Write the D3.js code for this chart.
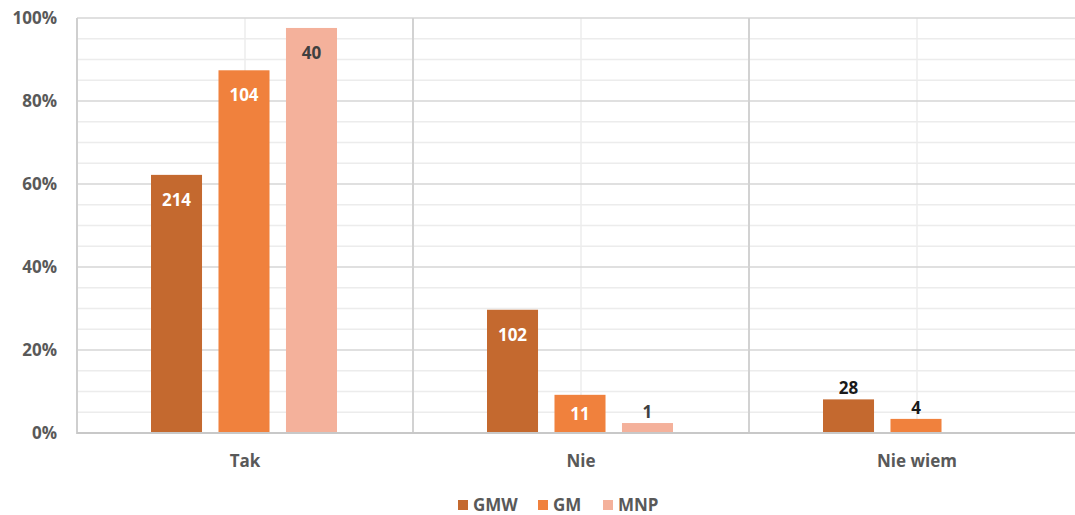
<!DOCTYPE html>
<html><head><meta charset="utf-8">
<script src="https://cdn.jsdelivr.net/npm/d3@7"></script>
<style>body{margin:0;background:#fff}svg{display:block}text{font-family:"Open Sans",sans-serif;font-weight:700}</style>
</head><body><svg id="c" width="1075" height="515"></svg>
<script>
const categories = ["Tak", "Nie", "Nie wiem"];
const seriesNames = ["GMW", "GM", "MNP"];
const seriesColors = ["#C4692F", "#F0813D", "#F4B19B"];
// percentage of respondents (bar height)
const gmwPct = [62.2, 29.7, 8.1];
const gmPct = [87.4, 9.2, 3.4];
const mnpPct = [97.6, 2.4, 0];
// counts shown as data labels
const gmwCount = [214, 102, 28];
const gmCount = [104, 11, 4];
const mnpCount = [40, 1, null];
const yTicks = [0, 20, 40, 60, 80, 100];

const pcts = [gmwPct, gmPct, mnpPct];
const counts = [gmwCount, gmCount, mnpCount];
const svg = d3.select("#c");
const L = 77, R = 1085, T = 18, B = 433;
const x = d3.scaleBand().domain(categories).range([L, R]);
const xs = d3.scaleBand().domain(seriesNames).range([74, 260]).paddingInner(0.244);
const y = d3.scaleLinear().domain([0, 100]).range([B, T]);

// minor gridlines
svg.append("g").selectAll("line").data(d3.range(0, 101, 5).filter(v => v % 20 !== 0))
  .join("line").attr("x1", L).attr("x2", R).attr("y1", d => y(d)).attr("y2", d => y(d))
  .attr("stroke", "#ececec").attr("stroke-width", 1.5);
// light vertical lines at category centres
svg.append("g").selectAll("line").data(categories).join("line")
  .attr("x1", d => x(d) + x.bandwidth() / 2).attr("x2", d => x(d) + x.bandwidth() / 2)
  .attr("y1", T).attr("y2", B).attr("stroke", "#ececec").attr("stroke-width", 1.5);
// major gridlines
svg.append("g").selectAll("line").data(yTicks.filter(v => v > 0)).join("line")
  .attr("x1", L).attr("x2", R).attr("y1", d => y(d)).attr("y2", d => y(d))
  .attr("stroke", "#d6d6d6").attr("stroke-width", 1.5);
// category boundaries
svg.append("g").selectAll("line").data(categories.slice(1)).join("line")
  .attr("x1", d => x(d)).attr("x2", d => x(d)).attr("y1", T).attr("y2", B)
  .attr("stroke", "#d2d2d2").attr("stroke-width", 2);
// left axis line
svg.append("line").attr("x1", L).attr("x2", L).attr("y1", T).attr("y2", B + 1)
  .attr("stroke", "#cfcfcf").attr("stroke-width", 2);

// bars
const data = [];
categories.forEach((c, i) => seriesNames.forEach((s, j) => {
  data.push({c, s, j, v: pcts[j][i], n: counts[j][i]});
}));
svg.append("g").selectAll("rect").data(data.filter(d => d.v > 0)).join("rect")
  .attr("x", d => x(d.c) + xs(d.s)).attr("width", xs.bandwidth())
  .attr("y", d => y(d.v)).attr("height", d => B - y(d.v))
  .attr("fill", d => seriesColors[d.j]);

// bottom axis line
svg.append("line").attr("x1", L).attr("x2", R).attr("y1", B).attr("y2", B)
  .attr("stroke", "#c8c8c8").attr("stroke-width", 2);

// data labels
const inside = d => (B - y(d.v)) > 36;
svg.append("g").selectAll("text").data(data.filter(d => d.n !== null)).join("text")
  .attr("x", d => x(d.c) + xs(d.s) + xs.bandwidth() / 2)
  .attr("y", d => inside(d) ? Math.min(y(d.v) + 31, (y(d.v) + B) / 2 + 6) : y(d.v) - 5)
  .attr("text-anchor", "middle").attr("font-size", 17)
  .attr("fill", d => inside(d) ? (d.j === 2 ? "#404040" : "#ffffff") : (d.j === 2 ? "#404040" : "#1a1a1a"))
  .text(d => d.n);

// y tick labels
svg.append("g").selectAll("text").data(yTicks).join("text")
  .attr("x", 57).attr("y", d => y(d) + 6).attr("text-anchor", "end")
  .attr("font-size", 17).attr("fill", "#595959").text(d => d + "%");
// x labels
svg.append("g").selectAll("text").data(categories).join("text")
  .attr("x", d => x(d) + x.bandwidth() / 2).attr("y", 467).attr("text-anchor", "middle")
  .attr("font-size", 17).attr("fill", "#595959").text(d => d);

// legend
const lx = [458, 538, 603];
const lg = svg.append("g").selectAll("g").data(seriesNames).join("g")
  .attr("transform", (d, i) => `translate(${lx[i]},500)`);
lg.append("rect").attr("width", 10).attr("height", 10).attr("fill", (d, i) => seriesColors[i]);
lg.append("text").attr("x", 15).attr("y", 11).attr("font-size", 17).attr("fill", "#595959").text(d => d);
</script></body></html>
